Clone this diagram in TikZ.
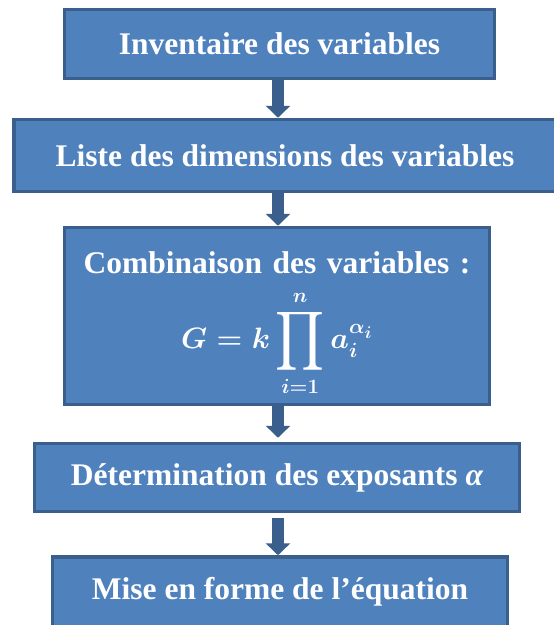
\documentclass[tikz,border=0pt]{standalone}
\usepackage{amsmath}
\usepackage{fontspec}
\setmainfont{Liberation Serif}
\usetikzlibrary{arrows.meta}
\definecolor{bleuboite}{HTML}{4F81BD}
\definecolor{bleubord}{HTML}{3A5F8D}
\newcommand{\grandprod}{\mathop{\vcenter{\hbox{\scalebox{1.3}[1.4]{$\displaystyle\prod$}}}}\limits}
\newcommand{\formule}{\scalebox{1.42}{\fontsize{20.74}{24}\selectfont\boldmath$\displaystyle G = k\grandprod_{i=1}^{n} a_i^{\alpha_i}$}}

\begin{document}
\begin{tikzpicture}[x=1pt,y=-1pt,
  etape/.style={draw=bleubord, fill=bleuboite, line width=3.5pt, text=white,
    font=\fontsize{31.5}{36}\selectfont\bfseries, inner sep=0pt, align=center},
  fleche/.style={draw=bleubord, line width=12pt, -{Triangle[width=24pt,length=12pt]}}]
  \useasboundingbox (0,0) rectangle (554,625);
  \clip (0,0) rectangle (554,625);
  \fill[white] (0,0) rectangle (554,625);
  \coordinate (axe) at (278,0);
  % les etapes
  \node[etape, minimum width=430pt, minimum height=69pt] (inventaire) at (279.5,44) {Inventaire des variables};
  \node[etape, minimum width=542pt, minimum height=72pt] (dimensions) at (285,155.5) {Liste des dimensions des variables};
  \node[etape, minimum width=425pt, minimum height=177pt, text width=420pt] (combinaison) at (277,316) {Combinaison des variables :\par\vspace{16pt}\formule\par\vspace{-16pt}};
  \node[etape, minimum width=485pt, minimum height=68pt] (exposants) at (277,477.5) {Détermination des exposants {\itshape α}};
  \node[etape, minimum width=455pt, minimum height=70pt] (miseenforme) at (280,592) {Mise en forme de l’équation};
  % les fleches
  \draw[fleche] (inventaire.south -| axe) -- (dimensions.north -| axe);
  \draw[fleche] (dimensions.south -| axe) -- (combinaison.north -| axe);
  \draw[fleche, shorten >=4pt] (combinaison.south -| axe) -- (exposants.north -| axe);
  \draw[fleche, shorten <=5pt] (exposants.south -| axe) -- (miseenforme.north -| axe);
\end{tikzpicture}
\end{document}
